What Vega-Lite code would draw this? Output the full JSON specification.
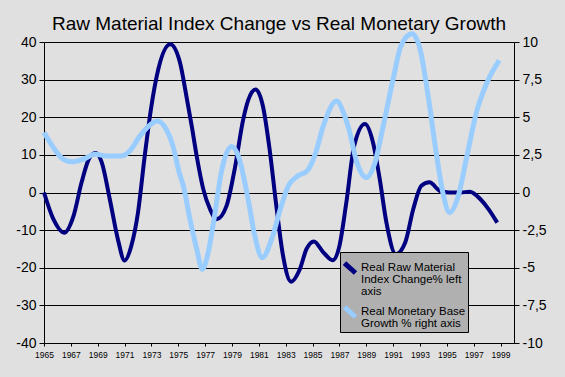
{
  "$schema": "https://vega.github.io/schema/vega-lite/v6.json",
  "width": 470,
  "height": 301,
  "autosize": {"type": "none"},
  "padding": {"left": 44, "top": 42, "right": 51, "bottom": 34},
  "background": "#e0e0e0",
  "title": {
    "text": "Raw Material Index Change vs Real Monetary Growth",
    "font": "Liberation Sans",
    "fontSize": 19,
    "fontWeight": "normal",
    "color": "black",
    "anchor": "middle",
    "baseline": "alphabetic",
    "offset": 3,
    "dy": 28
  },
  "config": {
    "view": {"stroke": null},
    "style": {"guide-label": {"lineHeight": 12}},
    "axis": {
      "domainColor": "black",
      "tickColor": "black",
      "labelColor": "black",
      "labelFont": "Liberation Sans",
      "gridColor": "black",
      "gridOpacity": 1,
      "title": null
    },
    "legend": {
      "orient": "none",
      "legendX": 296,
      "legendY": 210,
      "fillColor": "#b0b0b0",
      "strokeColor": "black",
      "padding": 2,
      "labelFont": "Liberation Sans",
      "labelFontSize": 11.5,
      "labelColor": "black",
      "labelLimit": 200,
      "labelBaseline": "top",
      "labelOffset": 3,
      "symbolType": "M-1,0.2L1,2.0",
      "symbolSize": 121,
      "symbolStrokeWidth": 5,
      "rowPadding": -23,
      "title": null
    }
  },
  "data": {
    "values": [
      {"year": 1965.0, "series": "Real Raw Material Index Change% left axis", "value": 0},
      {"year": 1965.7, "series": "Real Raw Material Index Change% left axis", "value": -7.1},
      {"year": 1966.5, "series": "Real Raw Material Index Change% left axis", "value": -10.7},
      {"year": 1967.2, "series": "Real Raw Material Index Change% left axis", "value": -6.2},
      {"year": 1967.8, "series": "Real Raw Material Index Change% left axis", "value": 2.7},
      {"year": 1968.4, "series": "Real Raw Material Index Change% left axis", "value": 9.3},
      {"year": 1968.87, "series": "Real Raw Material Index Change% left axis", "value": 10.5},
      {"year": 1969.3, "series": "Real Raw Material Index Change% left axis", "value": 8},
      {"year": 1969.9, "series": "Real Raw Material Index Change% left axis", "value": -1.8},
      {"year": 1970.5, "series": "Real Raw Material Index Change% left axis", "value": -12.4},
      {"year": 1971.0, "series": "Real Raw Material Index Change% left axis", "value": -18.1},
      {"year": 1971.5, "series": "Real Raw Material Index Change% left axis", "value": -14.2},
      {"year": 1972.0, "series": "Real Raw Material Index Change% left axis", "value": -5.3},
      {"year": 1972.5, "series": "Real Raw Material Index Change% left axis", "value": 9.7},
      {"year": 1973.0, "series": "Real Raw Material Index Change% left axis", "value": 23},
      {"year": 1973.4, "series": "Real Raw Material Index Change% left axis", "value": 31},
      {"year": 1974.4, "series": "Real Raw Material Index Change% left axis", "value": 39.4},
      {"year": 1975.13, "series": "Real Raw Material Index Change% left axis", "value": 34.5},
      {"year": 1975.6, "series": "Real Raw Material Index Change% left axis", "value": 25.7},
      {"year": 1976.0, "series": "Real Raw Material Index Change% left axis", "value": 17.7},
      {"year": 1976.37, "series": "Real Raw Material Index Change% left axis", "value": 9.7},
      {"year": 1976.86, "series": "Real Raw Material Index Change% left axis", "value": 0.9},
      {"year": 1977.36, "series": "Real Raw Material Index Change% left axis", "value": -4.4},
      {"year": 1977.86, "series": "Real Raw Material Index Change% left axis", "value": -7.1},
      {"year": 1978.6, "series": "Real Raw Material Index Change% left axis", "value": -3.5},
      {"year": 1979.2, "series": "Real Raw Material Index Change% left axis", "value": 6.2},
      {"year": 1979.84, "series": "Real Raw Material Index Change% left axis", "value": 19.5},
      {"year": 1980.2, "series": "Real Raw Material Index Change% left axis", "value": 24.5},
      {"year": 1980.76, "series": "Real Raw Material Index Change% left axis", "value": 27.4},
      {"year": 1981.3, "series": "Real Raw Material Index Change% left axis", "value": 23},
      {"year": 1981.8, "series": "Real Raw Material Index Change% left axis", "value": 11.5},
      {"year": 1982.3, "series": "Real Raw Material Index Change% left axis", "value": -3.5},
      {"year": 1982.8, "series": "Real Raw Material Index Change% left axis", "value": -16.8},
      {"year": 1983.4, "series": "Real Raw Material Index Change% left axis", "value": -23.7},
      {"year": 1984.05, "series": "Real Raw Material Index Change% left axis", "value": -20.4},
      {"year": 1984.55, "series": "Real Raw Material Index Change% left axis", "value": -15},
      {"year": 1985.1, "series": "Real Raw Material Index Change% left axis", "value": -13.0},
      {"year": 1985.8, "series": "Real Raw Material Index Change% left axis", "value": -15.9},
      {"year": 1986.5, "series": "Real Raw Material Index Change% left axis", "value": -18.0},
      {"year": 1987.0, "series": "Real Raw Material Index Change% left axis", "value": -14.2},
      {"year": 1987.5, "series": "Real Raw Material Index Change% left axis", "value": -3},
      {"year": 1988.1, "series": "Real Raw Material Index Change% left axis", "value": 12.4},
      {"year": 1988.9, "series": "Real Raw Material Index Change% left axis", "value": 18.2},
      {"year": 1989.5, "series": "Real Raw Material Index Change% left axis", "value": 13.3},
      {"year": 1990.0, "series": "Real Raw Material Index Change% left axis", "value": 3.6},
      {"year": 1990.5, "series": "Real Raw Material Index Change% left axis", "value": -8},
      {"year": 1991.2, "series": "Real Raw Material Index Change% left axis", "value": -16.4},
      {"year": 1991.9, "series": "Real Raw Material Index Change% left axis", "value": -13.3},
      {"year": 1992.5, "series": "Real Raw Material Index Change% left axis", "value": -4.4},
      {"year": 1993.1, "series": "Real Raw Material Index Change% left axis", "value": 1.8},
      {"year": 1993.7, "series": "Real Raw Material Index Change% left axis", "value": 2.7},
      {"year": 1994.5, "series": "Real Raw Material Index Change% left axis", "value": 0.4},
      {"year": 1995.2, "series": "Real Raw Material Index Change% left axis", "value": 0},
      {"year": 1996.0, "series": "Real Raw Material Index Change% left axis", "value": 0},
      {"year": 1996.7, "series": "Real Raw Material Index Change% left axis", "value": 0.2},
      {"year": 1997.5, "series": "Real Raw Material Index Change% left axis", "value": -1.8},
      {"year": 1998.1, "series": "Real Raw Material Index Change% left axis", "value": -4.4},
      {"year": 1998.75, "series": "Real Raw Material Index Change% left axis", "value": -8},
      {"year": 1965.0, "series": "Real Monetary Base Growth % right axis", "value": 3.98},
      {"year": 1965.7, "series": "Real Monetary Base Growth % right axis", "value": 2.98},
      {"year": 1966.44, "series": "Real Monetary Base Growth % right axis", "value": 2.2},
      {"year": 1967.06, "series": "Real Monetary Base Growth % right axis", "value": 2.04},
      {"year": 1967.9, "series": "Real Monetary Base Growth % right axis", "value": 2.2},
      {"year": 1968.8, "series": "Real Monetary Base Growth % right axis", "value": 2.54},
      {"year": 1969.67, "series": "Real Monetary Base Growth % right axis", "value": 2.43},
      {"year": 1970.8, "series": "Real Monetary Base Growth % right axis", "value": 2.43},
      {"year": 1971.4, "series": "Real Monetary Base Growth % right axis", "value": 2.77},
      {"year": 1972.15, "series": "Real Monetary Base Growth % right axis", "value": 3.76},
      {"year": 1973.14, "series": "Real Monetary Base Growth % right axis", "value": 4.65},
      {"year": 1973.44, "series": "Real Monetary Base Growth % right axis", "value": 4.75},
      {"year": 1974.1, "series": "Real Monetary Base Growth % right axis", "value": 4.2},
      {"year": 1974.6, "series": "Real Monetary Base Growth % right axis", "value": 3.1},
      {"year": 1975.07, "series": "Real Monetary Base Growth % right axis", "value": 1.33},
      {"year": 1975.37, "series": "Real Monetary Base Growth % right axis", "value": 0.45},
      {"year": 1975.87, "series": "Real Monetary Base Growth % right axis", "value": -1.78},
      {"year": 1976.37, "series": "Real Monetary Base Growth % right axis", "value": -3.75},
      {"year": 1976.79, "series": "Real Monetary Base Growth % right axis", "value": -5.1},
      {"year": 1977.23, "series": "Real Monetary Base Growth % right axis", "value": -3.98},
      {"year": 1977.7, "series": "Real Monetary Base Growth % right axis", "value": -1.55},
      {"year": 1978.2, "series": "Real Monetary Base Growth % right axis", "value": 1.33},
      {"year": 1978.97, "series": "Real Monetary Base Growth % right axis", "value": 3.05},
      {"year": 1979.5, "series": "Real Monetary Base Growth % right axis", "value": 2.35},
      {"year": 1980.2, "series": "Real Monetary Base Growth % right axis", "value": -0.45},
      {"year": 1980.7, "series": "Real Monetary Base Growth % right axis", "value": -2.88},
      {"year": 1981.25, "series": "Real Monetary Base Growth % right axis", "value": -4.33},
      {"year": 1981.95, "series": "Real Monetary Base Growth % right axis", "value": -3.1},
      {"year": 1982.6, "series": "Real Monetary Base Growth % right axis", "value": -1.1},
      {"year": 1983.2, "series": "Real Monetary Base Growth % right axis", "value": 0.45},
      {"year": 1983.9, "series": "Real Monetary Base Growth % right axis", "value": 1.1},
      {"year": 1984.6, "series": "Real Monetary Base Growth % right axis", "value": 1.44},
      {"year": 1985.2, "series": "Real Monetary Base Growth % right axis", "value": 2.55},
      {"year": 1985.8, "series": "Real Monetary Base Growth % right axis", "value": 4.43},
      {"year": 1986.8, "series": "Real Monetary Base Growth % right axis", "value": 6.08},
      {"year": 1987.3, "series": "Real Monetary Base Growth % right axis", "value": 5.3},
      {"year": 1987.7, "series": "Real Monetary Base Growth % right axis", "value": 4.23},
      {"year": 1988.3, "series": "Real Monetary Base Growth % right axis", "value": 2.0},
      {"year": 1989.0, "series": "Real Monetary Base Growth % right axis", "value": 1.0},
      {"year": 1989.65, "series": "Real Monetary Base Growth % right axis", "value": 2.0},
      {"year": 1990.27, "series": "Real Monetary Base Growth % right axis", "value": 4.45},
      {"year": 1991.0, "series": "Real Monetary Base Growth % right axis", "value": 7.55},
      {"year": 1991.6, "series": "Real Monetary Base Growth % right axis", "value": 9.78},
      {"year": 1992.4, "series": "Real Monetary Base Growth % right axis", "value": 10.55},
      {"year": 1993.0, "series": "Real Monetary Base Growth % right axis", "value": 9.55},
      {"year": 1993.6, "series": "Real Monetary Base Growth % right axis", "value": 6.45},
      {"year": 1994.2, "series": "Real Monetary Base Growth % right axis", "value": 2.68},
      {"year": 1994.7, "series": "Real Monetary Base Growth % right axis", "value": 0},
      {"year": 1995.2, "series": "Real Monetary Base Growth % right axis", "value": -1.33},
      {"year": 1995.85, "series": "Real Monetary Base Growth % right axis", "value": -0.23},
      {"year": 1996.5, "series": "Real Monetary Base Growth % right axis", "value": 2.45},
      {"year": 1997.2, "series": "Real Monetary Base Growth % right axis", "value": 5.33},
      {"year": 1998.0, "series": "Real Monetary Base Growth % right axis", "value": 7.33},
      {"year": 1998.9, "series": "Real Monetary Base Growth % right axis", "value": 8.78}
    ]
  },
  "encoding": {
    "x": {
      "field": "year",
      "type": "quantitative",
      "scale": {"domain": [1965, 2000], "nice": false, "zero": false},
      "axis": {
        "values": [1965, 1967, 1969, 1971, 1973, 1975, 1977, 1979, 1981, 1983, 1985, 1987, 1989, 1991, 1993, 1995, 1997, 1999],
        "labelExpr": "'' + datum.value",
        "labelFontSize": 8.5,
        "labelOverlap": false,
        "labelFlush": false,
        "tickSize": 3,
        "labelPadding": 4,
        "grid": false
      }
    },
    "color": {
      "field": "series",
      "type": "nominal",
      "scale": {
        "domain": ["Real Raw Material Index Change% left axis", "Real Monetary Base Growth % right axis"],
        "range": ["#000080", "#99ccff"]
      },
      "legend": {
        "labelExpr": "datum.label == 'Real Raw Material Index Change% left axis' ? ['Real Raw Material', 'Index Change% left', 'axis'] : ['Real Monetary Base', 'Growth % right axis']"
      }
    }
  },
  "layer": [
    {
      "transform": [{"filter": "datum.series == 'Real Raw Material Index Change% left axis'"}],
      "mark": {"type": "line", "interpolate": "monotone", "strokeWidth": 4, "clip": false},
      "encoding": {
        "y": {
          "field": "value",
          "type": "quantitative",
          "scale": {"domain": [-40, 40], "nice": false, "zero": false},
          "axis": {
            "orient": "left",
            "values": [-40, -30, -20, -10, 0, 10, 20, 30, 40],
            "labelExpr": "'' + datum.value",
            "labelFontSize": 14,
            "tickSize": 5,
            "labelPadding": 3,
            "grid": true,
            "gridWidth": 1
          }
        }
      }
    },
    {
      "transform": [{"filter": "datum.series == 'Real Monetary Base Growth % right axis'"}],
      "mark": {"type": "line", "interpolate": "monotone", "strokeWidth": 5, "clip": false},
      "encoding": {
        "y": {
          "field": "value",
          "type": "quantitative",
          "scale": {"domain": [-10, 10], "nice": false, "zero": false},
          "axis": {
            "orient": "right",
            "values": [-10, -7.5, -5, -2.5, 0, 2.5, 5, 7.5, 10],
            "labelExpr": "replace('' + datum.value, '.', ',')",
            "labelFontSize": 14,
            "tickSize": 5,
            "labelPadding": 3,
            "grid": false
          }
        }
      }
    }
  ],
  "resolve": {"scale": {"y": "independent"}}
}
